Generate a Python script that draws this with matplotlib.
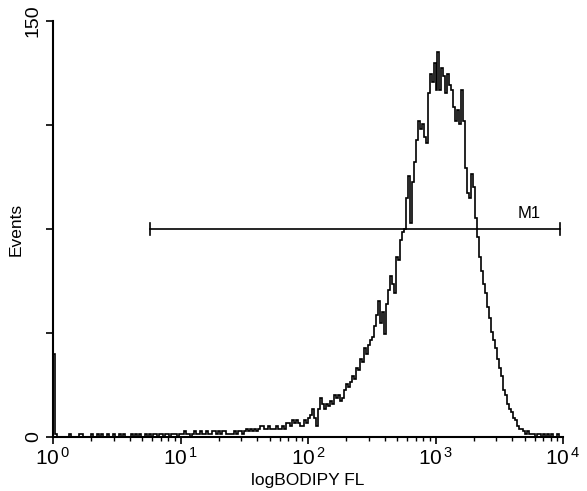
import numpy as np
import matplotlib
matplotlib.use("Agg")
import matplotlib.pyplot as plt
from matplotlib.ticker import FixedLocator, FixedFormatter, NullFormatter

# === Fonts ===
plt.rcParams['font.family'] = ['Liberation Sans', 'DejaVu Sans']
plt.rcParams['mathtext.fontset'] = 'custom'
plt.rcParams['mathtext.rm'] = 'Liberation Sans'
plt.rcParams['mathtext.it'] = 'Liberation Sans'

# === Data: 256 log channels over 4 decades (10^0 .. 10^4) ===
n_channels = 256
decades = 4

spike = [30]
tail_left = [1, 0, 0, 0, 0, 0, 0, 1, 0, 0, 0, 0, 1, 1, 0, 0, 0, 0, 1, 0,
             0, 1, 0, 1, 0, 0, 1, 0, 0, 1, 0, 0, 1, 0, 1, 0, 0, 0, 1, 0,
             1, 0, 1, 0, 0, 1, 0]
low_1 = [1, 0, 1, 1, 0, 1, 1, 0, 1, 1, 0, 1, 1, 1, 0, 1]
low_2 = [1, 1, 2, 1, 1, 0, 1, 2, 1, 1, 2, 1, 1, 2, 1, 1, 2, 2, 1, 2,
         1, 2, 2, 1, 1]
shoulder = [1, 1, 2, 1, 2, 2, 1, 2, 3, 2, 3, 2, 3, 2, 3, 4, 4, 3, 3, 4,
            3, 3, 3, 4, 3, 3, 4, 3, 5, 5, 4, 6, 5, 6, 5, 4, 4, 6, 5]
rise_1 = [7, 8, 10, 7, 4, 10, 14, 12, 10, 12, 11, 13, 12, 15, 14, 15, 13,
          14, 17, 19]
rise_2 = [18, 20, 22, 21, 25, 24, 28, 27, 32, 30, 33, 35, 36, 40,
          44, 49, 41, 45, 37, 48, 53, 58, 55, 52, 65, 64, 71, 74, 75, 86]
rise_3 = [94, 77, 92, 99, 107, 114, 111, 113, 108, 106, 124, 131, 128, 135]
peak = [125, 139, 125, 133, 130, 124, 131, 127, 125, 119, 114, 118, 113,
        125, 114, 97, 88, 86, 95, 90, 79, 72]
fall = [65, 60, 55, 52, 47, 43, 38, 35, 32, 28, 25, 22, 17, 15, 12, 10, 9,
        7, 6, 4, 3, 3, 2, 1, 2, 1, 1]
tail_right = [1, 0, 1, 1, 0, 1, 0, 1, 0, 1, 0, 0, 1, 0, 0]

counts = np.array(spike + tail_left + low_1 + low_2 + shoulder + rise_1
                  + rise_2 + rise_3 + peak + fall + tail_right)
edges = 10.0 ** (np.arange(n_channels + 1) * decades / n_channels)

# === Marker M1 ===
m1_start, m1_end, m1_level = 5.8, 9500, 75
m1_label = "M1"

x_ticks = [1, 10, 100, 1000, 10000]
x_labels = [r"$10^{\,0}$", r"$10^{\,1}$", r"$10^{\,2}$", r"$10^{\,3}$", r"$10^{\,4}$"]
y_ticks = [0, 37.5, 75, 112.5, 150]
y_labels = ["0", "", "", "", "150"]

# === Plot ===
fig = plt.figure(figsize=(5.87, 4.91), dpi=100)
ax = fig.add_axes([53 / 587, 54 / 491, 510 / 587, 416 / 491])

ax.stairs(counts, edges, color="black", lw=1.2)

ax.plot([m1_start, m1_end], [m1_level, m1_level], color="black", lw=1.2)
ax.plot([m1_start, m1_start], [m1_level - 2, m1_level + 2], color="black", lw=1.2)
ax.plot([m1_end, m1_end], [m1_level - 2, m1_level + 2], color="black", lw=1.2)
ax.text(5400, m1_level + 3, m1_label, ha="center", va="bottom", fontsize=12)

ax.set_xscale("log")
ax.set_xlim(1, 10000)
ax.set_ylim(0, 150)

ax.xaxis.set_major_locator(FixedLocator(x_ticks))
ax.xaxis.set_major_formatter(FixedFormatter(x_labels))
ax.xaxis.set_minor_formatter(NullFormatter())
ax.yaxis.set_major_locator(FixedLocator(y_ticks))
ax.yaxis.set_major_formatter(FixedFormatter(y_labels))

ax.tick_params(axis="x", which="major", length=5, width=1.2, labelsize=15, pad=2)
ax.tick_params(axis="x", which="minor", length=3, width=1.0)
ax.tick_params(axis="y", which="major", length=5, width=1.2, labelsize=14, pad=3)
for lbl in ax.get_yticklabels():
    lbl.set_rotation(90)
    lbl.set_va("center")

for side in ["top", "right"]:
    ax.spines[side].set_visible(False)
for side in ["left", "bottom"]:
    ax.spines[side].set_linewidth(1.5)

ax.set_xlabel("logBODIPY FL", fontsize=12.5, labelpad=3)
ax.set_ylabel("Events", fontsize=12.5, labelpad=1)

fig.savefig("out.png", dpi=100)
